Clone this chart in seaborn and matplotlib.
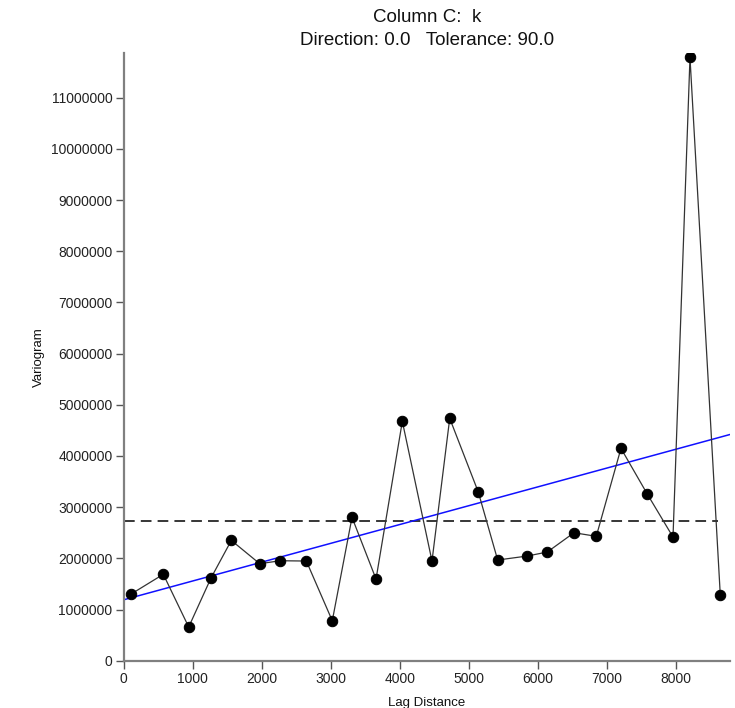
import numpy as np
import pandas as pd
import matplotlib
matplotlib.use("Agg")
import matplotlib.pyplot as plt
import seaborn as sns

# Experimental variogram: lag distance vs semivariance
lag_distance = [101, 574, 942, 1265, 1560, 1971, 2270, 2647, 3023, 3309,
                3657, 4038, 4468, 4725, 5139, 5420, 5849, 6139, 6526, 6849,
                7207, 7588, 7961, 8207, 8646]
variogram = [1297000, 1688000, 658000, 1615000, 2350000, 1895000, 1953000,
             1947000, 780000, 2800000, 1595000, 4676000, 1947000, 4734000,
             3295000, 1967000, 2045000, 2123000, 2500000, 2430000, 4148000,
             3256000, 2416000, 11785000, 1289000]

# Sample variance (sill reference) and fitted linear model
sample_variance = 2723000
model_nugget = 1190000
model_slope = 367.5

x_ticks = [0, 1000, 2000, 3000, 4000, 5000, 6000, 7000, 8000]
y_ticks = list(range(0, 12000000, 1000000))

sns.set_theme(style="white")
plt.rcParams["font.family"] = ["Liberation Sans", "DejaVu Sans"]

fig = plt.figure(figsize=(7.35, 7.08), dpi=100)
ax = fig.add_axes([0.1683, 0.0668, 0.8249, 0.8582])

x_max = 8787
y_max = 11870000

df = pd.DataFrame({"lag": lag_distance, "gamma": variogram})

# Sample variance
ax.plot([0, 8617], [sample_variance, sample_variance], color="black",
        linestyle=(0, (7, 4)), linewidth=1.1, zorder=1)

# Linear model
model_x = np.array([0, x_max])
sns.lineplot(x=model_x, y=model_nugget + model_slope * model_x, ax=ax,
             color="#1010ff", linewidth=1.1, zorder=2)

# Experimental points joined in lag order
sns.lineplot(data=df, x="lag", y="gamma", ax=ax, sort=False, color="#333333",
             linewidth=0.9, marker="o", markersize=7.5,
             markerfacecolor="black", markeredgecolor="black", zorder=3)

ax.set_xlim(0, x_max)
ax.set_ylim(0, y_max)
ax.set_xticks(x_ticks)
ax.set_xticklabels([str(v) for v in x_ticks])
ax.set_yticks(y_ticks)
ax.set_yticklabels([str(v) for v in y_ticks])

for side in ["top", "right"]:
    ax.spines[side].set_visible(False)
for side in ["left", "bottom"]:
    ax.spines[side].set_color("#808080")
    ax.spines[side].set_linewidth(1.6)

ax.tick_params(axis="both", which="major", direction="out", length=6,
               width=1.0, color="#555555", labelsize=10, labelcolor="#222222",
               pad=2, bottom=True, left=True)

ax.set_xlabel("Lag Distance", fontsize=9.5, color="#111111", labelpad=8)
ax.set_ylabel("Variogram", fontsize=9.5, color="#111111", labelpad=4)
ax.set_title("Column C:  k\nDirection: 0.0   Tolerance: 90.0",
             fontsize=13.5, color="#111111", pad=6, linespacing=1.45)

fig.savefig("out.png", dpi=100, facecolor="white")
